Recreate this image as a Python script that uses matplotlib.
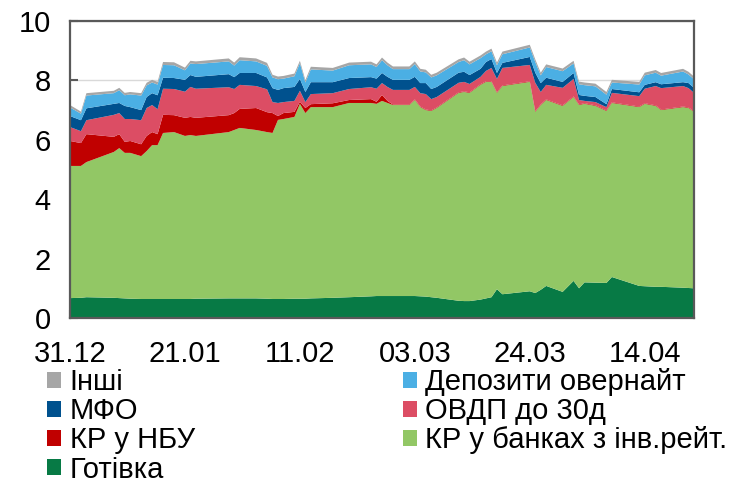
import matplotlib
matplotlib.use("Agg")
import matplotlib.pyplot as plt
import matplotlib.dates as mdates
from matplotlib.patches import Patch
import pandas as pd

plt.rcParams['font.family'] = ['Liberation Sans', 'DejaVu Sans']

dates = ["2019-12-31", "2020-01-02", "2020-01-03", "2020-01-08", "2020-01-09", "2020-01-10",
         "2020-01-11", "2020-01-13", "2020-01-14", "2020-01-15", "2020-01-16", "2020-01-17",
         "2020-01-19", "2020-01-21", "2020-01-22", "2020-01-23", "2020-01-29", "2020-01-30",
         "2020-01-31", "2020-02-03", "2020-02-05", "2020-02-06", "2020-02-07", "2020-02-08",
         "2020-02-10", "2020-02-11", "2020-02-12", "2020-02-13", "2020-02-17", "2020-02-20",
         "2020-02-24", "2020-02-25", "2020-02-26", "2020-02-27", "2020-02-28", "2020-03-02",
         "2020-03-03", "2020-03-04", "2020-03-05", "2020-03-06", "2020-03-07", "2020-03-11",
         "2020-03-12", "2020-03-13", "2020-03-15", "2020-03-16", "2020-03-17", "2020-03-18",
         "2020-03-19", "2020-03-24", "2020-03-25", "2020-03-26", "2020-03-27", "2020-03-30",
         "2020-04-01", "2020-04-02", "2020-04-03", "2020-04-05", "2020-04-07", "2020-04-08",
         "2020-04-13", "2020-04-14", "2020-04-16", "2020-04-17", "2020-04-21", "2020-04-22",
         "2020-04-23"]

gotivka = [0.67, 0.68, 0.70, 0.68, 0.67, 0.66, 0.65, 0.64, 0.64, 0.64,
           0.64, 0.64, 0.64, 0.64, 0.64, 0.65, 0.66, 0.66, 0.66, 0.66,
           0.65, 0.64, 0.64, 0.64, 0.65, 0.65, 0.65, 0.66, 0.68, 0.70,
           0.73, 0.74, 0.74, 0.74, 0.74, 0.74, 0.74, 0.73, 0.72, 0.70,
           0.68, 0.58, 0.57, 0.57, 0.62, 0.66, 0.70, 0.97, 0.80, 0.90,
           0.84, 0.95, 1.08, 0.88, 1.25, 1.00, 1.20, 1.19, 1.18, 1.38,
           1.08, 1.07, 1.05, 1.05, 1.02, 1.01, 1.00]

kr_banks = [4.45, 4.44, 4.55, 4.91, 5.05, 4.90, 4.91, 4.81, 4.98, 5.18,
            5.18, 5.59, 5.62, 5.49, 5.52, 5.48, 5.60, 5.67, 5.74, 5.67,
            5.61, 5.59, 6.03, 6.06, 6.12, 6.56, 6.25, 6.44, 6.42, 6.54,
            6.51, 6.47, 6.57, 6.50, 6.43, 6.43, 6.60, 6.37, 6.28, 6.27,
            6.39, 7.00, 7.04, 7.01, 7.23, 7.29, 7.25, 6.61, 7.01, 7.05,
            6.10, 6.22, 6.26, 6.26, 6.19, 6.17, 6.01, 5.95, 5.79, 5.86,
            6.02, 6.14, 6.09, 5.95, 6.08, 6.06, 5.94]

kr_nbu = [0.84, 0.77, 0.94, 0.51, 0.47, 0.37, 0.40, 0.40, 0.51, 0.44,
          0.37, 0.61, 0.57, 0.61, 0.61, 0.61, 0.57, 0.57, 0.64, 0.74,
          0.67, 0.67, 0.13, 0.20, 0.17, 0.07, 0.17, 0.10, 0.13, 0.10,
          0.13, 0.07, 0.20, 0.07, 0.02, 0.02, 0.02, 0.02, 0.02, 0.02,
          0.02, 0.02, 0.02, 0.02, 0.02, 0.02, 0.02, 0.02, 0.02, 0.02,
          0.02, 0.02, 0.02, 0.02, 0.02, 0.02, 0.02, 0.02, 0.02, 0.02,
          0.02, 0.02, 0.02, 0.02, 0.02, 0.02, 0.02]

ovdp = [0.47, 0.40, 0.47, 0.74, 0.71, 0.77, 0.74, 0.81, 0.94, 0.91,
        0.84, 0.88, 0.88, 0.88, 1.01, 0.98, 0.94, 0.81, 0.81, 0.74,
        0.77, 0.37, 0.44, 0.37, 0.37, 0.37, 0.20, 0.34, 0.34, 0.37,
        0.40, 0.44, 0.40, 0.47, 0.49, 0.49, 0.42, 0.45, 0.52, 0.38,
        0.35, 0.32, 0.32, 0.28, 0.25, 0.35, 0.45, 0.45, 0.59, 0.55,
        0.96, 0.42, 0.49, 0.59, 0.59, 0.15, 0.08, 0.11, 0.11, 0.32,
        0.35, 0.49, 0.65, 0.72, 0.69, 0.65, 0.62]

mfo = [0.37, 0.37, 0.40, 0.37, 0.34, 0.44, 0.40, 0.34, 0.37, 0.40,
       0.47, 0.37, 0.37, 0.40, 0.40, 0.40, 0.44, 0.40, 0.40, 0.44,
       0.40, 0.47, 0.44, 0.47, 0.47, 0.40, 0.34, 0.40, 0.37, 0.37,
       0.34, 0.34, 0.34, 0.34, 0.34, 0.34, 0.34, 0.34, 0.37, 0.34,
       0.34, 0.34, 0.34, 0.30, 0.27, 0.30, 0.30, 0.20, 0.17, 0.27,
       0.34, 0.30, 0.24, 0.20, 0.20, 0.17, 0.17, 0.17, 0.10, 0.13,
       0.13, 0.13, 0.13, 0.13, 0.13, 0.17, 0.17]

deposits = [0.29, 0.22, 0.43, 0.36, 0.43, 0.36, 0.43, 0.49, 0.39, 0.36,
            0.36, 0.43, 0.43, 0.32, 0.39, 0.43, 0.43, 0.39, 0.43, 0.39,
            0.39, 0.36, 0.36, 0.32, 0.36, 0.53, 0.32, 0.43, 0.39, 0.43,
            0.43, 0.39, 0.43, 0.39, 0.36, 0.36, 0.43, 0.39, 0.36, 0.39,
            0.39, 0.36, 0.39, 0.36, 0.36, 0.26, 0.26, 0.26, 0.29, 0.32,
            0.36, 0.26, 0.36, 0.36, 0.32, 0.36, 0.36, 0.36, 0.32, 0.22,
            0.26, 0.32, 0.32, 0.29, 0.36, 0.29, 0.29]

other = [0.08, 0.07, 0.08, 0.08, 0.08, 0.08, 0.08, 0.08, 0.09, 0.09,
         0.09, 0.10, 0.10, 0.09, 0.09, 0.09, 0.10, 0.10, 0.10, 0.10,
         0.10, 0.09, 0.09, 0.09, 0.09, 0.08, 0.08, 0.09, 0.09, 0.09,
         0.09, 0.09, 0.09, 0.09, 0.09, 0.09, 0.09, 0.09, 0.09, 0.09,
         0.09, 0.09, 0.09, 0.09, 0.09, 0.09, 0.09, 0.09, 0.09, 0.09,
         0.09, 0.09, 0.09, 0.09, 0.09, 0.09, 0.09, 0.09, 0.09, 0.09,
         0.09, 0.09, 0.09, 0.09, 0.09, 0.09, 0.09]

labels = ["Готівка", "КР у банках з інв.рейт.", "КР у НБУ", "ОВДП до 30д",
          "МФО", "Депозити овернайт", "Інші"]
colors = ["#077a45", "#92c765", "#c00000", "#dc4d64", "#00518e", "#4bafe4", "#a6a6a6"]

tick_dates = ["2019-12-31", "2020-01-21", "2020-02-11", "2020-03-03", "2020-03-24", "2020-04-14"]

x = pd.to_datetime(dates)

fig = plt.figure(figsize=(7.33, 4.84), dpi=100)
ax = fig.add_axes([70/733, 1-318/484, (694-70)/733, (318-21)/484])

ax.stackplot(x, gotivka, kr_banks, kr_nbu, ovdp, mfo, deposits, other,
             colors=colors, linewidth=0, zorder=2)

ax.set_ylim(0, 10)
ax.set_yticks([0, 2, 4, 6, 8, 10])
ax.set_xlim(x[0], x[-1])
ax.set_xticks(pd.to_datetime(tick_dates))
ax.xaxis.set_major_formatter(mdates.DateFormatter("%d.%m"))
ax.grid(axis='y', color='#d9d9d9', linewidth=1, zorder=0)
ax.set_axisbelow(True)

for s in ax.spines.values():
    s.set_color('#595959')
    s.set_linewidth(1.6)
    s.set_zorder(5)

ax.tick_params(axis='both', direction='in', length=6, width=1.5, color='#595959',
               labelsize=21, labelcolor='black')
ax.tick_params(axis='y', pad=14)
ax.tick_params(axis='x', pad=16)

order = [6, 4, 2, 0, 5, 3, 1]
handles = [Patch(facecolor=colors[i], edgecolor='none') for i in order]
leg_labels = [labels[i] for i in order]
fig.legend(handles, leg_labels, loc='upper left', bbox_to_anchor=(47/733, 1-368/484),
           ncol=2, frameon=False, fontsize=21, handlelength=0.48, handleheight=0.48,
           handletextpad=0.3, labelspacing=0.04, columnspacing=7.12, borderaxespad=0,
           borderpad=0)

fig.savefig("out.png", dpi=100)
